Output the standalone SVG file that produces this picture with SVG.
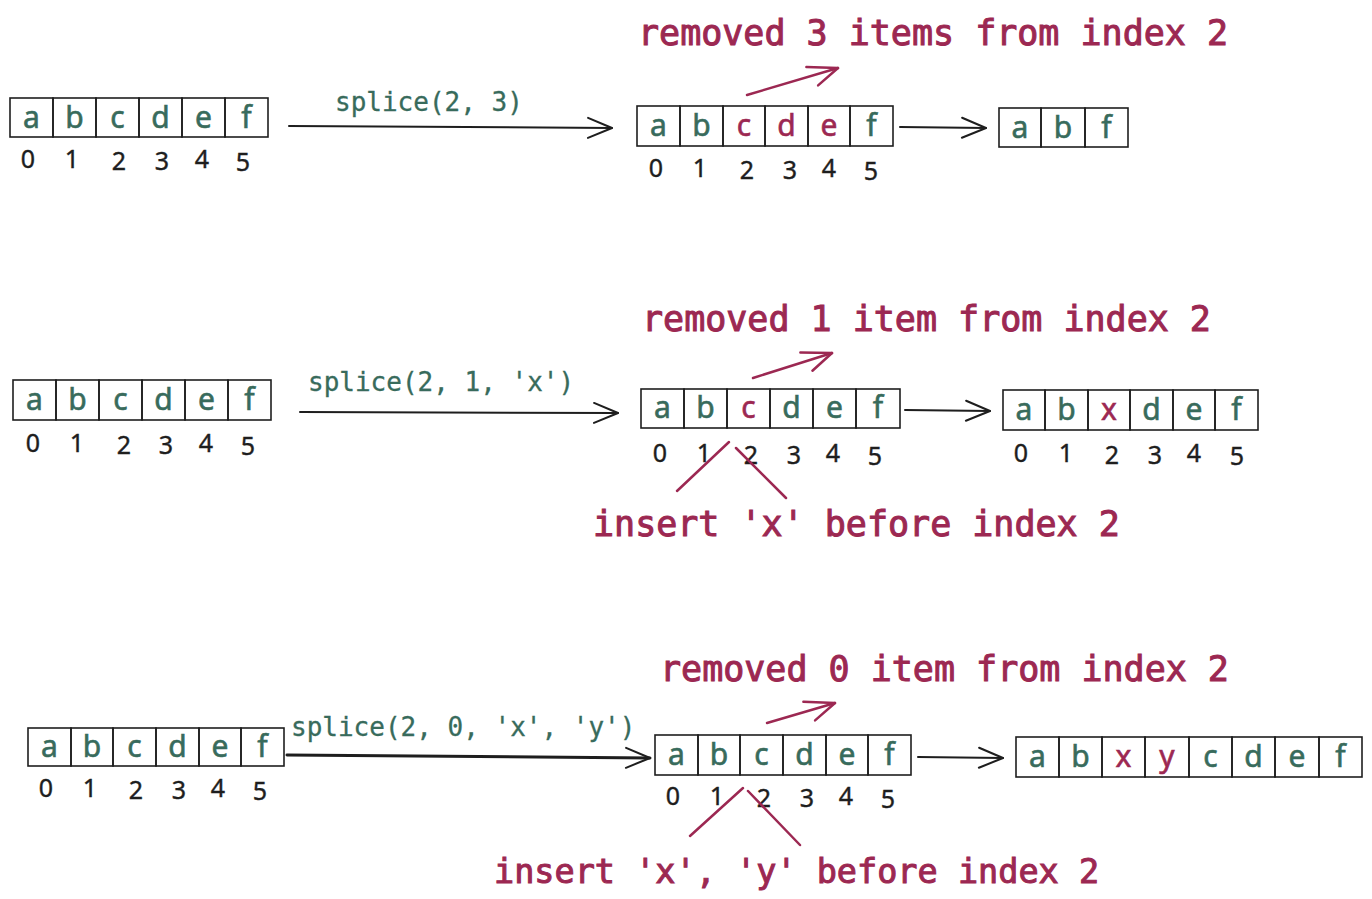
<svg xmlns="http://www.w3.org/2000/svg" width="1372" height="899" viewBox="0 0 1372 899">
<style>
.bx{fill:none;stroke:#1e1e1e;stroke-width:1.6}
.lt{font-family:"Noto Sans","DejaVu Sans",sans-serif;font-size:30px;fill:#386b5c;stroke:#386b5c;stroke-width:0.6;text-anchor:middle}
.lr{fill:#9c2852;stroke:#9c2852}
.ix{font-family:"Noto Sans","DejaVu Sans",sans-serif;font-size:25px;fill:#1e1e1e;stroke:#1e1e1e;stroke-width:0.4;text-anchor:middle}
.code{font-family:"DejaVu Sans Mono","Liberation Mono",monospace;font-size:26px;fill:#386b5c;stroke:#386b5c;stroke-width:0.3}
.note{font-family:"DejaVu Sans Mono","Liberation Mono",monospace;font-size:35px;fill:#9c2852;stroke:#9c2852;stroke-width:1}
.ar{fill:none;stroke:#1e1e1e;stroke-width:2;stroke-linecap:round}
.rr{fill:none;stroke:#9c2852;stroke-width:2.5;stroke-linecap:round}
</style>
<defs>
<marker id="mk" viewBox="0 0 28 24" refX="26" refY="12" markerWidth="28" markerHeight="24" markerUnits="userSpaceOnUse" orient="auto">
<path d="M2,2 L26,12 L2,22" fill="none" stroke="#1e1e1e" stroke-width="2" stroke-linecap="round" stroke-linejoin="round"/>
</marker>
<marker id="mr" viewBox="0 0 34 26" refX="32" refY="13" markerWidth="34" markerHeight="26" markerUnits="userSpaceOnUse" orient="auto">
<path d="M2,3 L32,13 L8,24" fill="none" stroke="#9c2852" stroke-width="2.5" stroke-linecap="round" stroke-linejoin="round"/>
</marker>
</defs>

<!-- Row 1 -->
<g id="r1-left">
<rect class="bx" x="10" y="98" width="43" height="39"/><rect class="bx" x="53" y="98" width="43" height="39"/><rect class="bx" x="96" y="98" width="43" height="39"/><rect class="bx" x="139" y="98" width="43" height="39"/><rect class="bx" x="182" y="98" width="43" height="39"/><rect class="bx" x="225" y="98" width="43" height="39"/>
<text class="lt" x="31.5" y="128">a</text><text class="lt" x="74.5" y="128">b</text><text class="lt" x="117.5" y="128">c</text><text class="lt" x="160.5" y="128">d</text><text class="lt" x="203.5" y="128">e</text><text class="lt" x="246.5" y="128">f</text>
<text class="ix" x="28" y="168">0</text><text class="ix" x="72" y="168">1</text><text class="ix" x="119" y="170">2</text><text class="ix" x="162" y="170">3</text><text class="ix" x="202" y="168">4</text><text class="ix" x="243" y="171">5</text>
</g>
<g id="r1-mid">
<rect class="bx" x="637" y="106" width="43" height="40"/><rect class="bx" x="680" y="106" width="43" height="40"/><rect class="bx" x="723" y="106" width="42" height="40"/><rect class="bx" x="765" y="106" width="43" height="40"/><rect class="bx" x="808" y="106" width="42" height="40"/><rect class="bx" x="850" y="106" width="43" height="40"/>
<text class="lt" x="658.5" y="136">a</text><text class="lt" x="701.5" y="136">b</text><text class="lt lr" x="744" y="136">c</text><text class="lt lr" x="786.5" y="136">d</text><text class="lt lr" x="829" y="136">e</text><text class="lt" x="871.5" y="136">f</text>
<text class="ix" x="656" y="177">0</text><text class="ix" x="700" y="177">1</text><text class="ix" x="747" y="179">2</text><text class="ix" x="790" y="179">3</text><text class="ix" x="829" y="177">4</text><text class="ix" x="871" y="180">5</text>
</g>
<g id="r1-right">
<rect class="bx" x="999" y="108" width="42" height="39"/><rect class="bx" x="1041" y="108" width="44" height="39"/><rect class="bx" x="1085" y="108" width="43" height="39"/>
<text class="lt" x="1020" y="138">a</text><text class="lt" x="1063" y="138">b</text><text class="lt" x="1106.5" y="138">f</text>
</g>
<text class="note" x="638" y="45">removed 3 items from index 2</text>
<text class="code" x="335" y="111">splice(2, 3)</text>

<!-- Row 2 -->
<g id="r2-left">
<rect class="bx" x="13" y="380" width="43" height="40"/><rect class="bx" x="56" y="380" width="43" height="40"/><rect class="bx" x="99" y="380" width="43" height="40"/><rect class="bx" x="142" y="380" width="43" height="40"/><rect class="bx" x="185" y="380" width="43" height="40"/><rect class="bx" x="228" y="380" width="43" height="40"/>
<text class="lt" x="34.5" y="410">a</text><text class="lt" x="77.5" y="410">b</text><text class="lt" x="120.5" y="410">c</text><text class="lt" x="163.5" y="410">d</text><text class="lt" x="206.5" y="410">e</text><text class="lt" x="249.5" y="410">f</text>
<text class="ix" x="33" y="452">0</text><text class="ix" x="77" y="452">1</text><text class="ix" x="124" y="454">2</text><text class="ix" x="166" y="454">3</text><text class="ix" x="206" y="452">4</text><text class="ix" x="248" y="455">5</text>
</g>
<g id="r2-mid">
<rect class="bx" x="641" y="389" width="43" height="39"/><rect class="bx" x="684" y="389" width="43" height="39"/><rect class="bx" x="727" y="389" width="43" height="39"/><rect class="bx" x="770" y="389" width="43" height="39"/><rect class="bx" x="813" y="389" width="43" height="39"/><rect class="bx" x="856" y="389" width="44" height="39"/>
<text class="lt" x="662.5" y="418">a</text><text class="lt" x="705.5" y="418">b</text><text class="lt lr" x="748.5" y="418">c</text><text class="lt" x="791.5" y="418">d</text><text class="lt" x="834.5" y="418">e</text><text class="lt" x="878" y="418">f</text>
<text class="ix" x="660" y="462">0</text><text class="ix" x="704" y="462">1</text><text class="ix" x="751" y="464">2</text><text class="ix" x="794" y="464">3</text><text class="ix" x="833" y="462">4</text><text class="ix" x="875" y="465">5</text>
</g>
<g id="r2-right">
<rect class="bx" x="1003" y="390" width="42" height="40"/><rect class="bx" x="1045" y="390" width="43" height="40"/><rect class="bx" x="1088" y="390" width="42" height="40"/><rect class="bx" x="1130" y="390" width="43" height="40"/><rect class="bx" x="1173" y="390" width="42" height="40"/><rect class="bx" x="1215" y="390" width="43" height="40"/>
<text class="lt" x="1024" y="420">a</text><text class="lt" x="1066.5" y="420">b</text><text class="lt lr" x="1109" y="420">x</text><text class="lt" x="1151.5" y="420">d</text><text class="lt" x="1194" y="420">e</text><text class="lt" x="1236.5" y="420">f</text>
<text class="ix" x="1021" y="462">0</text><text class="ix" x="1066" y="462">1</text><text class="ix" x="1112" y="464">2</text><text class="ix" x="1155" y="464">3</text><text class="ix" x="1194" y="462">4</text><text class="ix" x="1237" y="465">5</text>
</g>
<text class="note" x="642" y="331">removed 1 item from index 2</text>
<text class="note" x="593" y="536">insert 'x' before index 2</text>
<text class="code" x="308" y="391">splice(2, 1, 'x')</text>

<!-- Row 3 -->
<g id="r3-left">
<rect class="bx" x="28" y="728" width="43" height="38"/><rect class="bx" x="71" y="728" width="42" height="38"/><rect class="bx" x="113" y="728" width="43" height="38"/><rect class="bx" x="156" y="728" width="43" height="38"/><rect class="bx" x="199" y="728" width="42" height="38"/><rect class="bx" x="241" y="728" width="43" height="38"/>
<text class="lt" x="49.5" y="757">a</text><text class="lt" x="92" y="757">b</text><text class="lt" x="134.5" y="757">c</text><text class="lt" x="177.5" y="757">d</text><text class="lt" x="220" y="757">e</text><text class="lt" x="262.5" y="757">f</text>
<text class="ix" x="46" y="797">0</text><text class="ix" x="90" y="797">1</text><text class="ix" x="136" y="799">2</text><text class="ix" x="179" y="799">3</text><text class="ix" x="218" y="797">4</text><text class="ix" x="260" y="800">5</text>
</g>
<g id="r3-mid">
<rect class="bx" x="655" y="735" width="43" height="40"/><rect class="bx" x="698" y="735" width="42" height="40"/><rect class="bx" x="740" y="735" width="43" height="40"/><rect class="bx" x="783" y="735" width="43" height="40"/><rect class="bx" x="826" y="735" width="42" height="40"/><rect class="bx" x="868" y="735" width="43" height="40"/>
<text class="lt" x="676.5" y="765">a</text><text class="lt" x="719" y="765">b</text><text class="lt" x="761.5" y="765">c</text><text class="lt" x="804.5" y="765">d</text><text class="lt" x="847" y="765">e</text><text class="lt" x="889.5" y="765">f</text>
<text class="ix" x="673" y="805">0</text><text class="ix" x="717" y="805">1</text><text class="ix" x="764" y="807">2</text><text class="ix" x="807" y="807">3</text><text class="ix" x="846" y="805">4</text><text class="ix" x="888" y="808">5</text>
</g>
<g id="r3-right">
<rect class="bx" x="1016" y="737" width="43" height="40"/><rect class="bx" x="1059" y="737" width="43" height="40"/><rect class="bx" x="1102" y="737" width="43" height="40"/><rect class="bx" x="1145" y="737" width="44" height="40"/><rect class="bx" x="1189" y="737" width="43" height="40"/><rect class="bx" x="1232" y="737" width="43" height="40"/><rect class="bx" x="1275" y="737" width="44" height="40"/><rect class="bx" x="1319" y="737" width="43" height="40"/>
<text class="lt" x="1037.5" y="767">a</text><text class="lt" x="1080.5" y="767">b</text><text class="lt lr" x="1123.5" y="767">x</text><text class="lt lr" x="1167" y="767">y</text><text class="lt" x="1210.5" y="767">c</text><text class="lt" x="1253.5" y="767">d</text><text class="lt" x="1297" y="767">e</text><text class="lt" x="1340.5" y="767">f</text>
</g>
<text class="note" x="660" y="681">removed 0 item from index 2</text>
<text class="note" x="494" y="883" style="font-size:33.5px">insert 'x', 'y' before index 2</text>
<text class="code" x="291" y="736">splice(2, 0, 'x', 'y')</text>

<!-- Connectors -->
<g id="connectors">
<line class="ar" x1="289" y1="126" x2="612" y2="128" marker-end="url(#mk)"/>
<line class="ar" x1="900" y1="127" x2="986" y2="128" marker-end="url(#mk)"/>
<path class="rr" d="M747,95 L838,68" marker-end="url(#mr)"/>

<line class="ar" x1="300" y1="412" x2="618" y2="413" marker-end="url(#mk)"/>
<line class="ar" x1="905" y1="410" x2="990" y2="411" marker-end="url(#mk)"/>
<path class="rr" d="M753,378 L832,353" marker-end="url(#mr)"/>
<line class="rr" x1="729" y1="442" x2="677" y2="491"/>
<line class="rr" x1="736" y1="448" x2="786" y2="498"/>

<line class="ar" x1="287" y1="755" x2="650" y2="758" style="stroke-width:3" marker-end="url(#mk)"/>
<line class="ar" x1="918" y1="757" x2="1003" y2="758" marker-end="url(#mk)"/>
<path class="rr" d="M767,723 L835,703" marker-end="url(#mr)"/>
<line class="rr" x1="743" y1="788" x2="690" y2="836"/>
<line class="rr" x1="748" y1="791" x2="800" y2="845"/>
</g>
</svg>
